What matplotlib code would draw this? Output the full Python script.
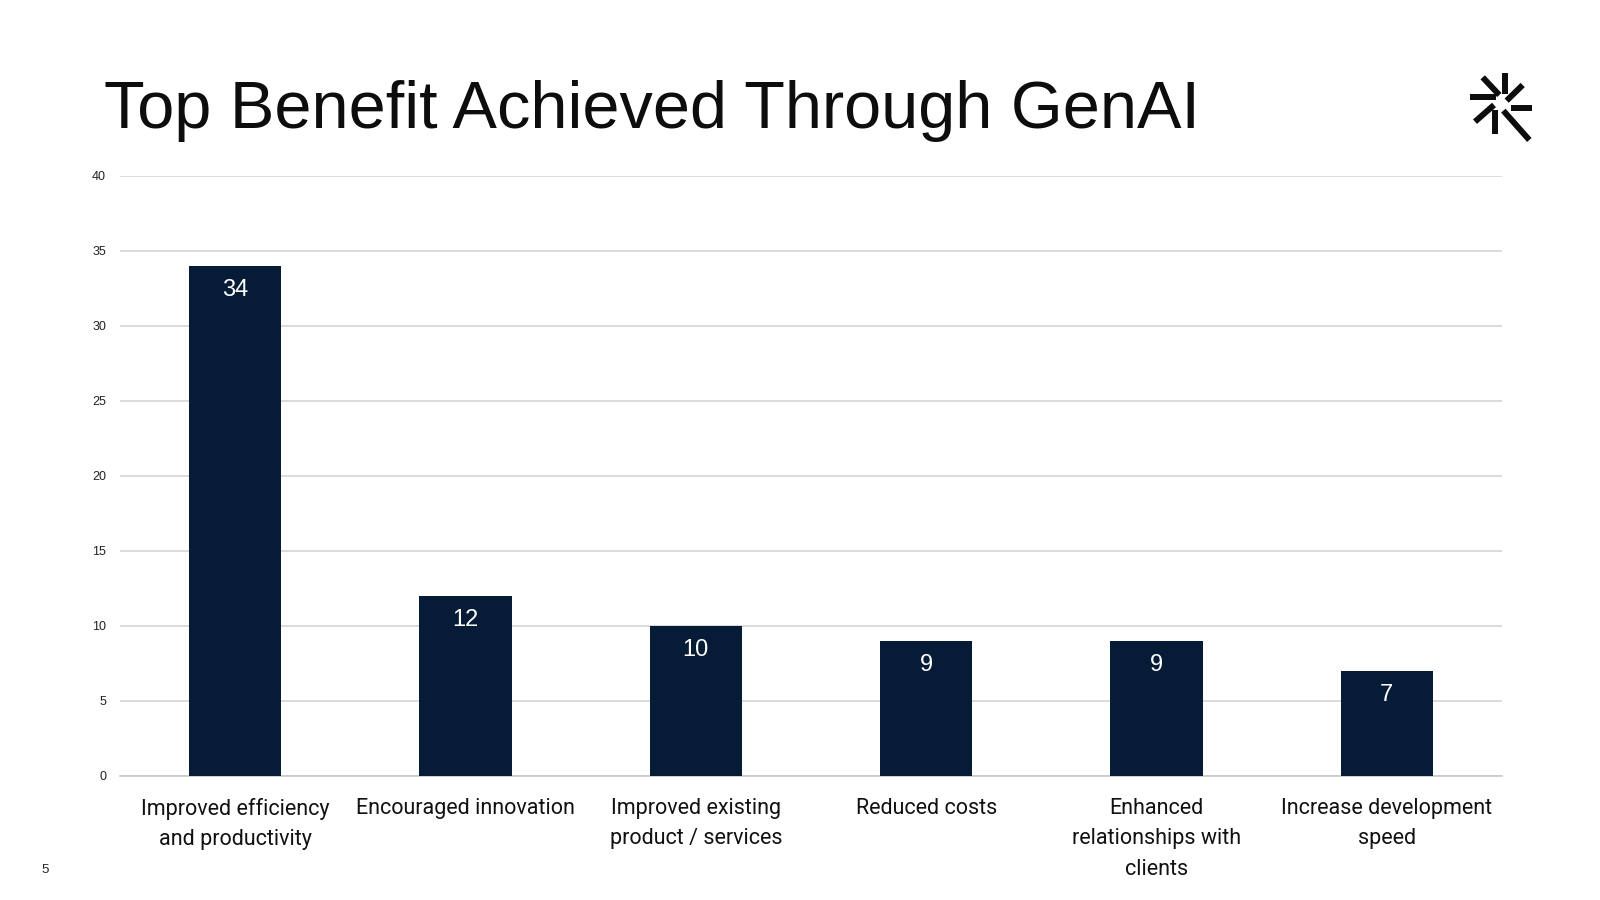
import matplotlib
matplotlib.use("Agg")
import matplotlib.pyplot as plt
from matplotlib.lines import Line2D

categories = ["Improved efficiency\nand productivity", "Encouraged innovation",
              "Improved existing\nproduct / services", "Reduced costs",
              "Enhanced\nrelationships with\nclients", "Increase development\nspeed"]
values = [34, 12, 10, 9, 9, 7]
yticks = [0, 5, 10, 15, 20, 25, 30, 35, 40]
title = "Top Benefit Achieved Through GenAI"
page_number = "5"

BAR = "#061C36"
W, H = 1600, 900
fig = plt.figure(figsize=(16, 9), dpi=100)
fig.patch.set_facecolor("white")

ax = fig.add_axes([120 / W, 1 - 775.5 / H, 1382 / W, 600 / H])
x = list(range(len(categories)))
bars = ax.bar(x, values, width=0.4, color=BAR, zorder=3)
ax.set_xlim(-0.5, len(categories) - 0.5)
ax.set_ylim(0, 40)
ax.set_yticks(yticks)
ax.set_yticklabels([str(t) for t in yticks], fontsize=9, family="Liberation Sans", color="#222222")
ax.tick_params(axis="y", length=0, pad=10)
ax.set_xticks(x)
ax.set_xticklabels(categories, fontsize=15.5, family="Roboto", color="#111111", linespacing=1.6)
ax.tick_params(axis="x", length=0, pad=16)
ax.grid(axis="y", color="#d4d4d4", linewidth=1.2, zorder=0)
for s in ["top", "right", "left"]:
    ax.spines[s].set_visible(False)
ax.spines["bottom"].set_color("#c8c8c8")
ax.spines["bottom"].set_linewidth(1.2)

for xi, v in zip(x, values):
    ax.annotate(str(v), (xi, v), xytext=(0, -17.5), textcoords="offset points",
                ha="center", va="center", color="white", fontsize=17,
                family="Liberation Sans", zorder=4)

fig.text(104 / W, 1 - 127.5 / H, title, fontsize=48, family="Liberation Sans",
         color="#0d0d0d", ha="left", va="baseline")
fig.text(45 / W, 1 - 870 / H, page_number, fontsize=9.5, family="Liberation Sans",
         color="#222222", ha="center", va="center")

# logo (decorative starburst)
segs_zoom = [((195, 38), (195, 103)), ((128, 52), (178, 105)), ((90, 112), (168, 112)),
             ((200, 122), (248, 75)), ((212, 145), (275, 145)), ((105, 185), (162, 135)),
             ((165, 150), (165, 222)), ((190, 152), (268, 240))]
for (a, b) in segs_zoom:
    xs = [(1440 + a[0] / 3) / W, (1440 + b[0] / 3) / W]
    ys = [1 - (60 + a[1] / 3) / H, 1 - (60 + b[1] / 3) / H]
    fig.add_artist(Line2D(xs, ys, transform=fig.transFigure, color="#0d0d0d",
                          linewidth=4.3, solid_capstyle="butt"))

fig.savefig("out.png", dpi=100)
